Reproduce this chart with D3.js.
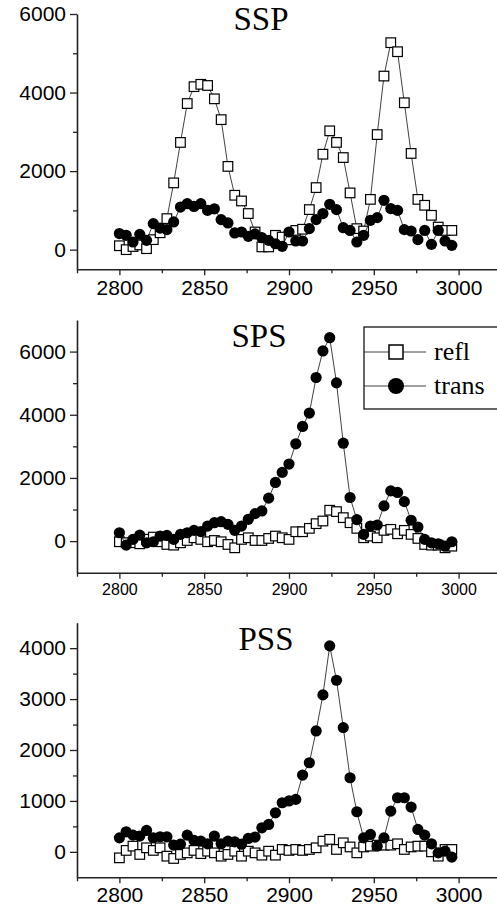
<!DOCTYPE html>
<html>
<head>
<meta charset="utf-8">
<script src="https://cdn.jsdelivr.net/npm/d3@7"></script>
<style>
  body { margin: 0; background: #fff; }
  svg { display: block; }
</style>
</head>
<body>
<div id="chart"></div>
<script>
// wavenumber (cm-1), same for every series
const wavenumbers = [2800, 2804, 2808, 2812, 2816, 2820, 2824, 2828, 2832, 2836,
  2840, 2844, 2848, 2852, 2856, 2860, 2864, 2868, 2872, 2876,
  2880, 2884, 2888, 2892, 2896, 2900, 2904, 2908, 2912, 2916,
  2920, 2924, 2928, 2932, 2936, 2940, 2944, 2948, 2952, 2956,
  2960, 2964, 2968, 2972, 2976, 2980, 2984, 2988, 2992, 2996];

const sspRefl = [100, 0, 80, 120, 25, 255, 430, 790, 1700, 2730,
  3720, 4150, 4210, 4180, 3840, 3310, 2120, 1385, 1240, 920,
  450, 70, 70, 365, 320, 250, 490, 520, 1020, 1580,
  2430, 3025, 2730, 2345, 1445, 535, 475, 1280, 2930, 4420,
  5270, 5040, 3740, 2450, 1280, 1130, 875, 575, 490, 490];
const sspTrans = [410, 365, 195, 390, 237, 663, 550, 510, 705, 1085,
  1170, 1100, 1170, 1000, 1040, 765, 680, 425, 450, 340,
  400, 305, 237, 150, 85, 450, 220, 220, 535, 765,
  920, 1155, 1020, 560, 490, 195, 365, 747, 815, 1257,
  1045, 1000, 510, 475, 255, 490, 135, 490, 220, 110];

const spsRefl = [-20, -50, -50, -85, 60, 127, -20, -106, -127, -54,
  20, 106, 54, -20, 20, -20, -106, -212, 54, 106,
  20, 20, 85, 160, 106, 54, 297, 297, 404, 552,
  637, 977, 934, 743, 583, 404, 106, 160, 106, 340,
  372, 233, 340, 213, 85, -106, -127, -127, -212, -160];
const spsTrans = [265, -127, 54, 190, -54, -20, 160, 180, 54, 213,
  265, 340, 300, 477, 583, 615, 530, 340, 477, 690,
  870, 955, 1360, 1857, 2175, 2440, 3080, 3630, 4055, 5180,
  6020, 6440, 5010, 3100, 1380, 680, 213, 477, 510, 1115,
  1590, 1540, 1250, 660, 445, 54, -54, -85, -160, -20];

const pssRefl = [-118, 28, 112, -51, 79, 28, 79, -85, -130, -51,
  -20, 28, -35, 13, -20, -85, -51, 13, -85, 13,
  -20, -65, 13, -65, 47, 28, 47, 28, 47, 79,
  210, 244, 47, 177, 96, -20, 96, 112, 132, 132,
  132, 158, 47, 96, 112, 112, 0, -85, 47, 47];
const pssTrans = [275, 393, 328, 310, 420, 275, 295, 295, 132, 150,
  328, 224, 210, 158, 310, 158, 210, 197, 150, 263,
  290, 472, 538, 767, 964, 1000, 1030, 1508, 1750, 2374,
  3082, 4045, 3370, 2440, 1455, 787, 275, 342, 112, 275,
  800, 1062, 1062, 879, 440, 328, 158, -20, 14, -104];

const panelTitles = ["SSP", "SPS", "PSS"];
const legendLabels = ["refl", "trans"];
const xTicks = [2800, 2850, 2900, 2950, 3000];
const xMinorTicks = [2775, 2825, 2875, 2925, 2975];
const sspYTicks = [0, 2000, 4000, 6000];
const sspYMinor = [1000, 3000, 5000];
const spsYTicks = [0, 2000, 4000, 6000];
const spsYMinor = [1000, 3000, 5000];
const pssYTicks = [0, 1000, 2000, 3000, 4000];
const pssYMinor = [500, 1500, 2500, 3500];

const W = 497, H = 912;
const svg = d3.select("#chart").append("svg")
  .attr("width", W).attr("height", H);

const x = d3.scaleLinear().domain([2775, 3025]).range([77, 501]);

function drawPanel(cfg) {
  const y = d3.scaleLinear().domain(cfg.yDomain).range(cfg.yRange);
  const g = svg.append("g");

  // minor ticks first, then the labelled axes
  g.append("g")
    .attr("transform", "translate(" + x.range()[0] + ",0)")
    .call(d3.axisLeft(y).tickValues(cfg.yMinor).tickSize(4).tickFormat("").tickSizeOuter(0))
    .call(a => a.select(".domain").remove());
  g.append("g")
    .attr("transform", "translate(0," + cfg.yRange[0] + ")")
    .call(d3.axisBottom(x).tickValues(xMinorTicks).tickSize(4).tickFormat("").tickSizeOuter(0))
    .call(a => a.select(".domain").remove());

  const yAxis = g.append("g")
    .attr("transform", "translate(" + x.range()[0] + ",0)")
    .call(d3.axisLeft(y).tickValues(cfg.yTicks).tickSize(7).tickPadding(4)
      .tickFormat(d3.format("d")).tickSizeOuter(0));
  yAxis.selectAll("text")
    .style("font-family", "'Liberation Sans', Arial, sans-serif")
    .style("font-size", "21px")
    .attr("fill", "#000");

  const xAxis = g.append("g")
    .attr("transform", "translate(0," + cfg.yRange[0] + ")")
    .call(d3.axisBottom(x).tickValues(xTicks).tickSize(6).tickPadding(cfg.xPad)
      .tickFormat(d3.format("d")).tickSizeOuter(0));
  xAxis.selectAll("text")
    .style("font-family", "'Liberation Sans', Arial, sans-serif")
    .style("font-size", cfg.xFont + "px")
    .attr("fill", "#000");

  g.selectAll(".domain").attr("stroke", "#222").attr("stroke-width", 1.6);
  g.selectAll(".tick line").attr("stroke", "#222").attr("stroke-width", 1.3);

  // title
  g.append("text")
    .attr("x", cfg.titleX)
    .attr("y", cfg.titleY)
    .attr("text-anchor", "middle")
    .style("font-family", "'Liberation Serif', 'Times New Roman', serif")
    .style("font-size", "33px")
    .text(cfg.title);

  const line = d3.line()
    .x((d, i) => x(wavenumbers[i]))
    .y(d => y(d));

  // refl: open squares
  g.append("path")
    .datum(cfg.refl)
    .attr("d", line)
    .attr("fill", "none")
    .attr("stroke", "#111")
    .attr("stroke-width", 0.8);
  g.selectAll(".sq")
    .data(cfg.refl)
    .enter()
    .append("rect")
    .attr("class", "sq")
    .attr("x", (d, i) => x(wavenumbers[i]) - 4.8)
    .attr("y", d => y(d) - 4.8)
    .attr("width", 9.6)
    .attr("height", 9.6)
    .attr("fill", "#fff")
    .attr("stroke", "#000")
    .attr("stroke-width", 1.2);

  // trans: filled circles
  g.append("path")
    .datum(cfg.trans)
    .attr("d", line)
    .attr("fill", "none")
    .attr("stroke", "#111")
    .attr("stroke-width", 0.8);
  g.selectAll(".dot")
    .data(cfg.trans)
    .enter()
    .append("circle")
    .attr("class", "dot")
    .attr("cx", (d, i) => x(wavenumbers[i]))
    .attr("cy", d => y(d))
    .attr("r", 5.6)
    .attr("fill", "#000");

  return g;
}

drawPanel({
  title: panelTitles[0], titleX: 261, titleY: 30,
  yDomain: [-500, 6000], yRange: [269.3, 14],
  yTicks: sspYTicks, yMinor: sspYMinor,
  xFont: 21, xPad: 5,
  refl: sspRefl, trans: sspTrans
});

const spsG = drawPanel({
  title: panelTitles[1], titleX: 259, titleY: 347,
  yDomain: [-1000, 7000], yRange: [572.7, 320],
  yTicks: spsYTicks, yMinor: spsYMinor,
  xFont: 16, xPad: 5,
  refl: spsRefl, trans: spsTrans
});

drawPanel({
  title: panelTitles[2], titleX: 266, titleY: 650,
  yDomain: [-500, 4500], yRange: [877.3, 622.7],
  yTicks: pssYTicks, yMinor: pssYMinor,
  xFont: 21, xPad: 4,
  refl: pssRefl, trans: pssTrans
});

// legend in the SPS panel
const legend = spsG.append("g");
legend.append("rect")
  .attr("x", 364).attr("y", 327)
  .attr("width", 150).attr("height", 82)
  .attr("fill", "#fff")
  .attr("stroke", "#000")
  .attr("stroke-width", 1.2);

legendLabels.forEach(function (label, i) {
  const ly = i === 0 ? 352 : 386;
  legend.append("line")
    .attr("x1", 364).attr("x2", 426)
    .attr("y1", ly).attr("y2", ly)
    .attr("stroke", "#111").attr("stroke-width", 0.8);
  if (i === 0) {
    legend.append("rect")
      .attr("x", 396 - 7).attr("y", ly - 7)
      .attr("width", 14).attr("height", 14)
      .attr("fill", "#fff").attr("stroke", "#000").attr("stroke-width", 1.5);
  } else {
    legend.append("circle")
      .attr("cx", 396).attr("cy", ly).attr("r", 8)
      .attr("fill", "#000");
  }
  legend.append("text")
    .attr("x", 434)
    .attr("y", ly + 8)
    .style("font-family", "'Liberation Serif', 'Times New Roman', serif")
    .style("font-size", "26px")
    .text(label);
});
</script>
</body>
</html>
